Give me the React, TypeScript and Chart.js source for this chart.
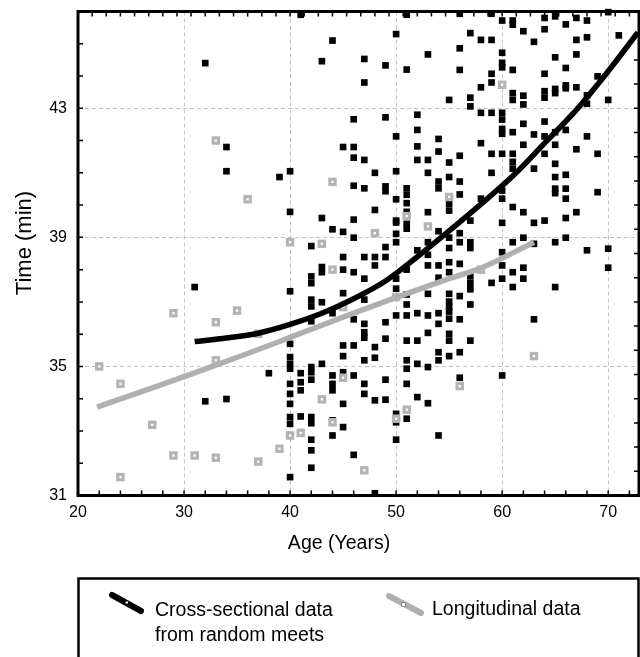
import React, { useEffect, useRef } from 'react';
import { Chart, registerables } from 'chart.js';

Chart.register(...registerables);

const FONT = "'Liberation Sans', Arial, Helvetica, sans-serif";

const xTickLabels = [20, 30, 40, 50, 60, 70];
const yTickLabels = [31, 35, 39, 43];

// Cross-sectional data from random meets: [age, time]
const crossSectional: [number, number][] = [
  [32, 44.4], [41, 45.9], [44, 45.1], [50, 45.3], [51, 45.9], [43, 44.46], [47, 44.53], [49, 44.33], [51, 44.2], [47, 43.8],
  [46, 42.66], [49, 42.72], [52, 42.8], [50, 42.13], [52, 42.33], [52, 41.82], [52, 41.4], [34, 41.8], [45, 41.8], [46, 41.8],
  [46, 41.47], [47, 41.4], [34, 41.05], [39, 40.87], [40, 41.05], [48, 41.0], [50, 41.05], [46, 40.6], [47, 40.52], [49, 40.58],
  [49, 40.43], [51, 40.52], [51, 40.32], [50, 40.18], [51, 40.06], [40, 39.79], [48, 39.85], [51, 39.79], [43, 39.6], [46, 39.55], [50, 39.52],
  [56, 45.93], [59, 45.93], [60, 45.72], [61, 45.72], [61, 45.59], [64, 45.8], [65, 45.85], [66, 45.6], [67, 45.8], [68, 45.72],
  [70, 45.98], [57, 45.33], [58, 45.12], [59, 45.12], [62, 45.39], [64, 45.45], [63, 45.06], [67, 45.12], [68, 45.2], [71, 45.26],
  [53, 44.67], [56, 44.86], [60, 44.72], [60, 44.41], [60, 44.27], [61, 44.19], [56, 44.19], [59, 44.07], [59, 43.8], [58, 43.65],
  [65, 44.58], [67, 44.67], [66, 44.25], [64, 44.07], [69, 43.99], [66, 43.71], [66, 43.62], [67, 43.65], [65, 43.6], [65, 43.47],
  [64, 43.53], [64, 43.33], [61, 43.47], [62, 43.39], [61, 43.26], [62, 43.12], [68, 43.4], [68, 43.14], [70, 43.26], [55, 43.26],
  [57, 43.33], [57, 43.06], [58, 42.86], [59, 42.86], [60, 42.86], [60, 42.65], [60, 42.36], [60, 42.21], [61, 42.26], [62, 42.52],
  [63, 42.19], [64, 42.59], [64, 42.13], [65, 42.26], [66, 42.33], [68, 42.13], [62, 41.87], [65, 41.87], [67, 41.73], [64, 41.59],
  [60, 41.59], [61, 41.59], [61, 41.34], [61, 41.13], [63, 41.13], [65, 41.28], [65, 40.87], [66, 40.94], [69, 41.59], [59, 41.59],
  [58, 41.92], [59, 41.0], [56, 41.53], [54, 42.05], [54, 41.66], [53, 41.4], [55, 41.32], [53, 41.0], [54, 40.73], [54, 40.52],
  [55, 40.87], [56, 40.73], [56, 40.33], [58, 40.2], [60, 40.45], [60, 40.2], [61, 39.94], [62, 39.78], [64, 39.52], [65, 40.51],
  [65, 40.37], [66, 40.51], [66, 40.2], [67, 39.78], [69, 40.4], [66, 39.6], [53, 39.78], [55, 40.04], [55, 39.83],
  [44, 39.25], [45, 39.17], [46, 38.99], [50, 39.46], [50, 39.11], [50, 38.85], [51, 39.42], [51, 39.27], [52, 38.6], [42, 38.73],
  [49, 38.7], [45, 38.39], [47, 38.39], [48, 38.39], [48, 38.13], [49, 38.39], [43, 38.08], [43, 37.92], [45, 38.0], [46, 37.92],
  [47, 37.72], [51, 38.0], [42, 37.79], [42, 37.58], [50, 37.72], [50, 37.41], [40, 37.33], [45, 37.27], [42, 37.07], [42, 36.86],
  [43, 36.99], [47, 37.07], [51, 37.23], [51, 36.92], [44, 36.65], [50, 36.58], [51, 36.58], [52, 36.65], [42, 36.4], [46, 36.46],
  [49, 36.37], [47, 36.32], [47, 36.06], [47, 35.89], [49, 35.86], [51, 35.8], [52, 35.8], [40, 35.7], [48, 35.6], [45, 35.65],
  [46, 35.65], [45, 35.32], [47, 35.19], [48, 35.27], [51, 35.19], [51, 34.93], [52, 35.08], [40, 35.29], [40, 35.08], [40, 34.93],
  [42, 34.98], [42, 34.82], [43, 35.08], [41, 34.79], [38, 34.79], [42, 34.59], [41, 34.51], [44, 34.72], [45, 34.82], [46, 34.72],
  [44, 34.46], [44, 34.26], [47, 34.46], [47, 34.15], [49, 34.59], [51, 34.46], [48, 33.95], [49, 33.97], [52, 34.05], [41, 34.26],
  [40, 34.46], [40, 34.15], [40, 33.84], [45, 33.84], [32, 33.92], [34, 33.99], [40, 33.43], [41, 33.45], [42, 33.43], [44, 33.33],
  [50, 33.53], [51, 33.38],
  [57, 39.52], [56, 39.13], [56, 38.85], [54, 39.19], [55, 38.99], [55, 38.67], [53, 38.85], [53, 38.46], [57, 38.85], [57, 38.67],
  [60, 39.45], [63, 39.45], [61, 38.85], [62, 38.99], [63, 38.8], [65, 38.85], [66, 38.99], [68, 38.6], [70, 38.65], [70, 38.06],
  [60, 38.54], [60, 38.13], [60, 37.72], [61, 37.92], [62, 38.06], [62, 37.72], [61, 37.46], [59, 37.59], [65, 37.46], [63, 36.46],
  [60, 34.72], [53, 38.13], [54, 38.13], [55, 38.23], [55, 37.92], [56, 38.18], [57, 37.79], [57, 37.58], [57, 37.39], [54, 37.75],
  [53, 37.25], [55, 37.25], [55, 37.01], [55, 36.84], [55, 36.7], [56, 37.18], [57, 36.92], [53, 36.58], [54, 36.65], [54, 36.32],
  [55, 36.48], [56, 36.46], [53, 36.04], [55, 36.01], [55, 35.8], [57, 35.8], [54, 35.44], [54, 35.19], [55, 35.32], [56, 35.44],
  [53, 34.98], [56, 34.65], [53, 33.86],
  [31, 37.46],
  [40, 33.22], [41, 32.96], [42, 33.24], [42, 32.73], [42, 32.4], [42, 31.86], [44, 32.86], [45, 33.12], [46, 32.26], [50, 33.27],
  [50, 32.73], [48, 31.07], [40, 31.57], [54, 32.86],
];

// Longitudinal data: [age, time]
const longitudinal: [number, number][] = [
  [22, 35.0], [24, 34.46], [24, 31.57], [27, 33.19], [29, 36.65], [29, 32.24], [31, 32.24], [33, 42.0], [33, 36.37], [33, 35.19],
  [33, 32.17], [35, 36.73], [36, 40.18], [37, 36.01], [37, 32.05], [39, 32.45], [40, 38.85], [40, 32.86], [41, 32.94], [43, 38.8],
  [43, 33.98], [44, 40.72], [44, 38.0], [44, 33.27], [45, 36.84], [45, 34.65], [47, 31.78], [48, 39.13], [50, 37.15], [50, 33.38],
  [51, 39.66], [51, 33.66], [53, 39.34], [55, 40.25], [56, 34.39], [58, 38.0], [60, 43.73], [63, 35.32],
];

// Fitted curves
const crossFitAge = [31, 34, 37, 40, 43, 46, 49, 52, 55, 58, 61, 64, 67, 70, 72.8];
const crossFitTime = [35.77, 35.88, 36.03, 36.3, 36.65, 37.1, 37.65, 38.4, 39.2, 40.03, 40.9, 41.92, 42.95, 44.15, 45.35];
const longFitAge = [21.8, 26, 31, 36, 40, 45, 50, 55, 58, 63];
const longFitTime = [33.74, 34.22, 34.8, 35.4, 35.9, 36.53, 37.14, 37.72, 38.05, 38.85];

const legendCross = ['Cross-sectional data', 'from random meets'];
const legendLong = 'Longitudinal data';
const xTitle = 'Age (Years)';
const yTitle = 'Time (min)';

export default function App() {
  const ref = useRef<HTMLCanvasElement>(null);

  useEffect(() => {
    document.body.style.margin = '0';
    const canvas = ref.current;
    if (!canvas) return;

    const framePlugin = {
      id: 'frameAndLegend',
      beforeDatasetsDraw(chart: any) {
        const { ctx, chartArea } = chart;
        const xs = chart.scales.x;
        const ys = chart.scales.y;
        const { left, right, top, bottom } = chartArea;
        ctx.save();
        ctx.strokeStyle = '#000';
        ctx.lineWidth = 1.5;
        const tl = 5;
        ctx.beginPath();
        for (let v = 22; v < 73; v += 2) {
          const px = xs.getPixelForValue(v);
          ctx.moveTo(px, bottom);
          ctx.lineTo(px, bottom - tl);
        }
        for (let k = 1; k < 40; k++) {
          const v = 20 + (k * 4) / 3;
          if (v >= 73) break;
          const px = xs.getPixelForValue(v);
          ctx.moveTo(px, top);
          ctx.lineTo(px, top + tl);
        }
        for (let v = 32; v < 46; v += 1) {
          const py = ys.getPixelForValue(v);
          ctx.moveTo(left, py);
          ctx.lineTo(left + tl, py);
        }
        for (let k = 1; k < 20; k++) {
          const v = 31 + k * 0.75;
          const py = ys.getPixelForValue(v);
          ctx.moveTo(right - 1, py);
          ctx.lineTo(right - 1 - tl, py);
        }
        ctx.stroke();
        ctx.lineWidth = 3;
        ctx.strokeRect(left, top, right - 1 - left, bottom - top);
        ctx.restore();
      },
      afterDraw(chart: any) {
        const { ctx } = chart;
        ctx.save();
        ctx.fillStyle = '#000';
        ctx.font = `19.5px ${FONT}`;
        ctx.textAlign = 'center';
        ctx.textBaseline = 'middle';
        ctx.fillText(xTitle, 339, 544);
        ctx.save();
        ctx.translate(25, 243);
        ctx.rotate(-Math.PI / 2);
        ctx.font = `22px ${FONT}`;
        ctx.fillText(yTitle, 0, 0);
        ctx.restore();

        ctx.strokeStyle = '#000';
        ctx.lineWidth = 2.5;
        ctx.strokeRect(78.5, 578.5, 560, 140);

        ctx.lineCap = 'round';
        ctx.lineWidth = 6;
        ctx.strokeStyle = '#000';
        ctx.beginPath();
        ctx.moveTo(112, 595);
        ctx.lineTo(141, 611);
        ctx.stroke();
        ctx.fillStyle = '#fff';
        ctx.fillRect(125.5, 601.5, 2.5, 2);

        ctx.strokeStyle = '#b0b0b0';
        ctx.beginPath();
        ctx.moveTo(389, 596);
        ctx.lineTo(421, 613);
        ctx.stroke();
        ctx.fillStyle = '#fff';
        ctx.strokeStyle = '#8a8a8a';
        ctx.lineWidth = 1;
        ctx.fillRect(401.5, 602.5, 4, 4);
        ctx.strokeRect(401.5, 602.5, 4, 4);

        ctx.fillStyle = '#000';
        ctx.font = `19.5px ${FONT}`;
        ctx.textAlign = 'left';
        ctx.textBaseline = 'alphabetic';
        ctx.fillText(legendCross[0], 155, 616);
        ctx.fillText(legendCross[1], 155, 641);
        ctx.fillText(legendLong, 432, 615);
        ctx.restore();
      },
    };

    const toPts = (arr: [number, number][]) => arr.map(([x, y]) => ({ x, y }));
    const crossFit = crossFitAge.map((x, i) => ({ x, y: crossFitTime[i] }));
    const longFit = longFitAge.map((x, i) => ({ x, y: longFitTime[i] }));

    const gridColor = (base: number) => (c: any) =>
      c.tick && c.tick.value === base ? 'rgba(0,0,0,0)' : '#c2c2c2';

    const zeroPad = (s: any) => {
      s.paddingTop = 0;
      s.paddingBottom = 0;
      s.paddingLeft = 0;
      s.paddingRight = 0;
    };

    const chart = new Chart(canvas, {
      type: 'scatter',
      data: {
        datasets: [
          {
            type: 'line',
            label: 'Longitudinal fit',
            data: longFit,
            borderColor: '#b0b0b0',
            borderWidth: 5.5,
            pointRadius: 0,
            cubicInterpolationMode: 'monotone',
            fill: false,
            clip: false,
            order: 0,
          } as any,
          {
            type: 'line',
            label: 'Cross-sectional fit',
            data: crossFit,
            borderColor: '#000',
            borderWidth: 5.5,
            pointRadius: 0,
            cubicInterpolationMode: 'monotone',
            fill: false,
            clip: false,
            order: 1,
          } as any,
          {
            label: 'Longitudinal centers',
            data: toPts(longitudinal),
            pointStyle: 'rect',
            pointRadius: 1.6,
            backgroundColor: '#ffffff',
            borderWidth: 0,
            clip: false,
            order: 2,
          } as any,
          {
            label: 'Longitudinal data',
            data: toPts(longitudinal),
            pointStyle: 'rect',
            pointRadius: 6,
            backgroundColor: '#b4b4b4',
            borderWidth: 0,
            clip: false,
            order: 3,
          } as any,
          {
            label: 'Cross-sectional data',
            data: toPts(crossSectional),
            pointStyle: 'rect',
            pointRadius: 4.7,
            backgroundColor: '#000',
            borderWidth: 0,
            clip: false,
            order: 4,
          } as any,
        ],
      },
      options: {
        animation: false,
        responsive: false,
        devicePixelRatio: 1,
        events: [],
        layout: { autoPadding: false, padding: { top: 11.5, left: 0, right: 0, bottom: 0 } },
        plugins: { legend: { display: false }, tooltip: { enabled: false }, title: { display: false } },
        scales: {
          x: {
            type: 'linear',
            min: 20,
            max: 73,
            afterFit: (s: any) => {
              s.height = 161.5;
              zeroPad(s);
            },
            afterBuildTicks: (s: any) => {
              s.ticks = xTickLabels.map((v) => ({ value: v }));
            },
            ticks: {
              font: { size: 16, family: FONT },
              color: '#000',
              padding: 7,
              maxRotation: 0,
              autoSkip: false,
            },
            grid: { drawTicks: false, color: gridColor(20), lineWidth: 1 },
            border: { display: false, dash: [4, 3] },
          },
          y: {
            type: 'linear',
            min: 31,
            max: 46,
            afterFit: (s: any) => {
              s.width = 78;
              zeroPad(s);
            },
            afterBuildTicks: (s: any) => {
              s.ticks = yTickLabels.map((v) => ({ value: v }));
            },
            ticks: {
              font: { size: 16, family: FONT },
              color: '#000',
              padding: 11,
              autoSkip: false,
            },
            grid: { drawTicks: false, color: gridColor(31), lineWidth: 1 },
            border: { display: false, dash: [4, 3] },
          },
        },
      } as any,
      plugins: [framePlugin],
    });

    return () => chart.destroy();
  }, []);

  return (
    <div style={{ width: 640, height: 657 }}>
      <canvas ref={ref} width={640} height={657} style={{ display: 'block' }} />
    </div>
  );
}
